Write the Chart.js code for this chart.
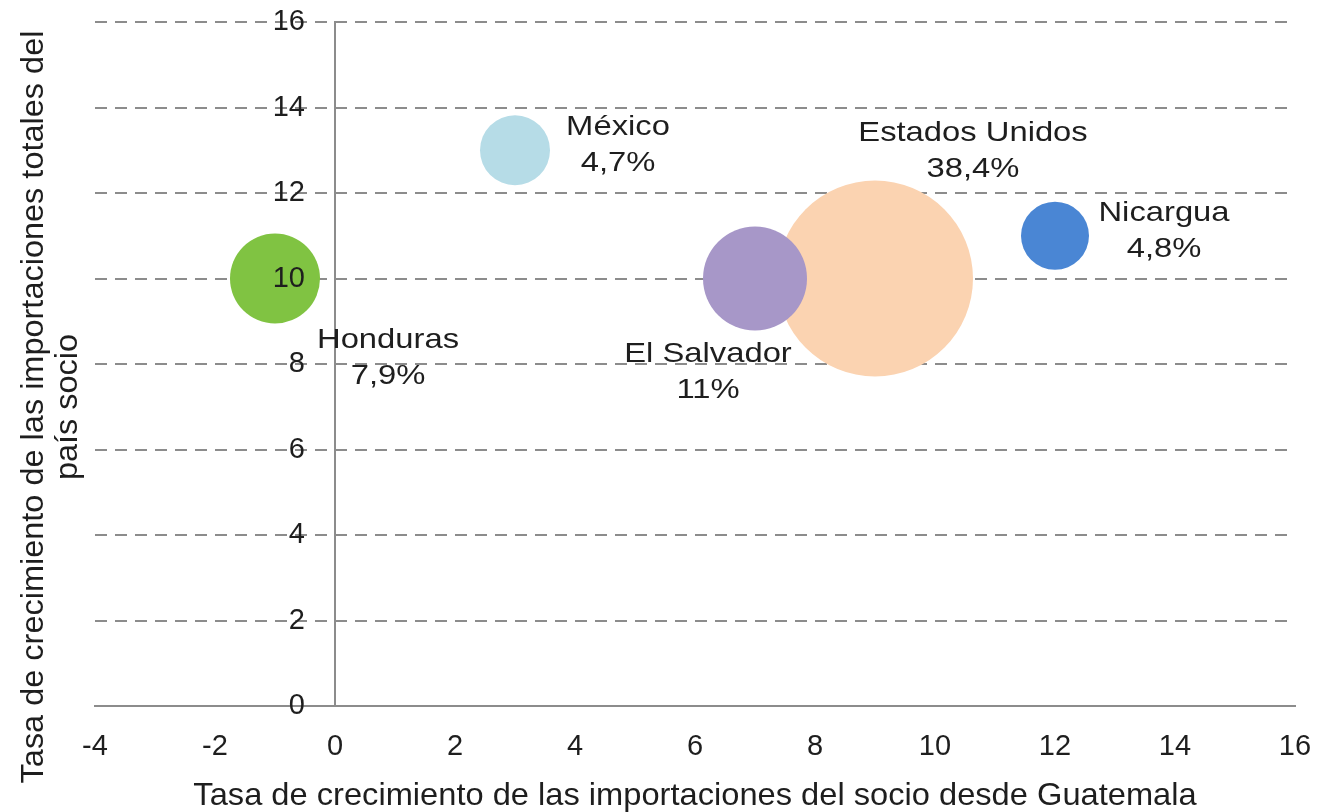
<!DOCTYPE html>
<html lang="es">
<head>
  <meta charset="UTF-8">
  <title>Tasa de crecimiento de las importaciones</title>
  <script src="https://cdn.jsdelivr.net/npm/chart.js"></script>
  <style>
    body { margin: 0; background: #fff; }
    #wrap { width: 1325px; height: 812px; }
  </style>
</head>
<body>
  <div id="wrap"><canvas id="bubbleChart"></canvas></div>

  <script>
    // datos
    const paises = ['Honduras', 'México', 'Estados Unidos', 'El Salvador', 'Nicargua'];
    const crecDesdeGuatemala = [-1, 3, 9, 7, 12];   // eje x
    const crecTotales = [10, 13, 10, 10, 11];       // eje y
    const participacion = ['7,9%', '4,7%', '38,4%', '11%', '4,8%'];
    const radios = [45, 35, 98, 52, 34];
    const colores = ['#80c342', '#b6dce7', '#fbd3b1', '#a797c8', '#4a86d4'];

    // posicion de cada etiqueta respecto a su burbuja (px)
    const desplazamientos = [[113, 59], [103, -25], [98, -148], [-47, 73], [109, -25]];

    const FUENTE = '"Liberation Sans", Arial, sans-serif';
    const GRIS = '#8c8c8c';
    const TRANSP = 'rgba(0,0,0,0)';

    const etiquetas = {
      id: 'etiquetas',
      afterDatasetsDraw(chart) {
        const ctx = chart.ctx;
        const meta = chart.getDatasetMeta(0);
        ctx.save();
        ctx.fillStyle = '#1e1e1e';
        ctx.font = '28px ' + FUENTE;
        ctx.textAlign = 'center';
        ctx.textBaseline = 'alphabetic';
        meta.data.forEach((pt, i) => {
          const [dx, dy] = desplazamientos[i];
          const lineas = [paises[i], participacion[i]];
          lineas.forEach((t, j) => {
            ctx.save();
            ctx.translate(pt.x + dx, pt.y + dy + 10 + j * 36);
            ctx.scale(1.17, 1);
            ctx.fillText(t, 0, 0);
            ctx.restore();
          });
        });
        ctx.restore();
      }
    };

    const titulos = {
      id: 'titulos',
      afterDraw(chart) {
        const ctx = chart.ctx;
        const area = chart.chartArea;
        ctx.save();
        ctx.fillStyle = '#1e1e1e';
        ctx.font = '32px ' + FUENTE;
        ctx.textAlign = 'center';
        ctx.textBaseline = 'alphabetic';
        ctx.save();
        ctx.translate((area.left + area.right) / 2, 805);
        ctx.scale(1.02, 1);
        ctx.fillText('Tasa de crecimiento de las importaciones del socio desde Guatemala', 0, 0);
        ctx.restore();
        ctx.translate(0, 407);
        ctx.rotate(-Math.PI / 2);
        ctx.scale(1.015, 1);
        ctx.fillText('Tasa de crecimiento de las importaciones totales del', 0, 43);
        ctx.fillText('país socio', 0, 77);
        ctx.restore();
      }
    };

    const ctx = document.getElementById('bubbleChart').getContext('2d');

    new Chart(ctx, {
      type: 'bubble',
      data: {
        datasets: [{
          data: paises.map((p, i) => ({ x: crecDesdeGuatemala[i], y: crecTotales[i], r: radios[i] })),
          backgroundColor: colores,
          borderWidth: 0,
          hoverBorderWidth: 0
        }]
      },
      plugins: [etiquetas, titulos],
      options: {
        responsive: true,
        maintainAspectRatio: false,
        animation: false,
        layout: {
          autoPadding: false,
          padding: { left: 95, right: 30, top: 22, bottom: 0 }
        },
        plugins: {
          legend: { display: false },
          tooltip: { enabled: false }
        },
        scales: {
          x: {
            type: 'linear',
            position: 'bottom',
            min: -4,
            max: 16,
            ticks: {
              stepSize: 2,
              padding: 0,
              color: '#1e1e1e',
              font: { family: FUENTE, size: 29 }
            },
            // marcas invisibles: solo separan los rotulos del eje
            grid: {
              color: TRANSP,
              drawOnChartArea: false,
              drawTicks: true,
              tickLength: 24,
              tickColor: TRANSP
            },
            border: { display: true, color: GRIS, width: 2 },
            afterFit(scale) { scale.height = 106; }
          },
          // eje y que cruza en x = 0: rejilla discontinua y linea del eje
          y: {
            type: 'linear',
            axis: 'y',
            position: { x: 0 },
            min: 0,
            max: 16,
            ticks: { stepSize: 2, display: false },
            grid: { color: GRIS, lineWidth: 2, drawTicks: false },
            border: { display: true, color: GRIS, width: 2, dash: [12, 8] }
          },
          // rotulos del eje y, un poco a la izquierda del cruce
          yRotulos: {
            type: 'linear',
            axis: 'y',
            position: { x: -0.5 },
            min: 0,
            max: 16,
            ticks: {
              stepSize: 2,
              z: 1,
              color: '#1e1e1e',
              font: { family: FUENTE, size: 29 }
            },
            grid: { display: false, drawTicks: false },
            border: { display: false }
          }
        }
      }
    });
  </script>
</body>
</html>
